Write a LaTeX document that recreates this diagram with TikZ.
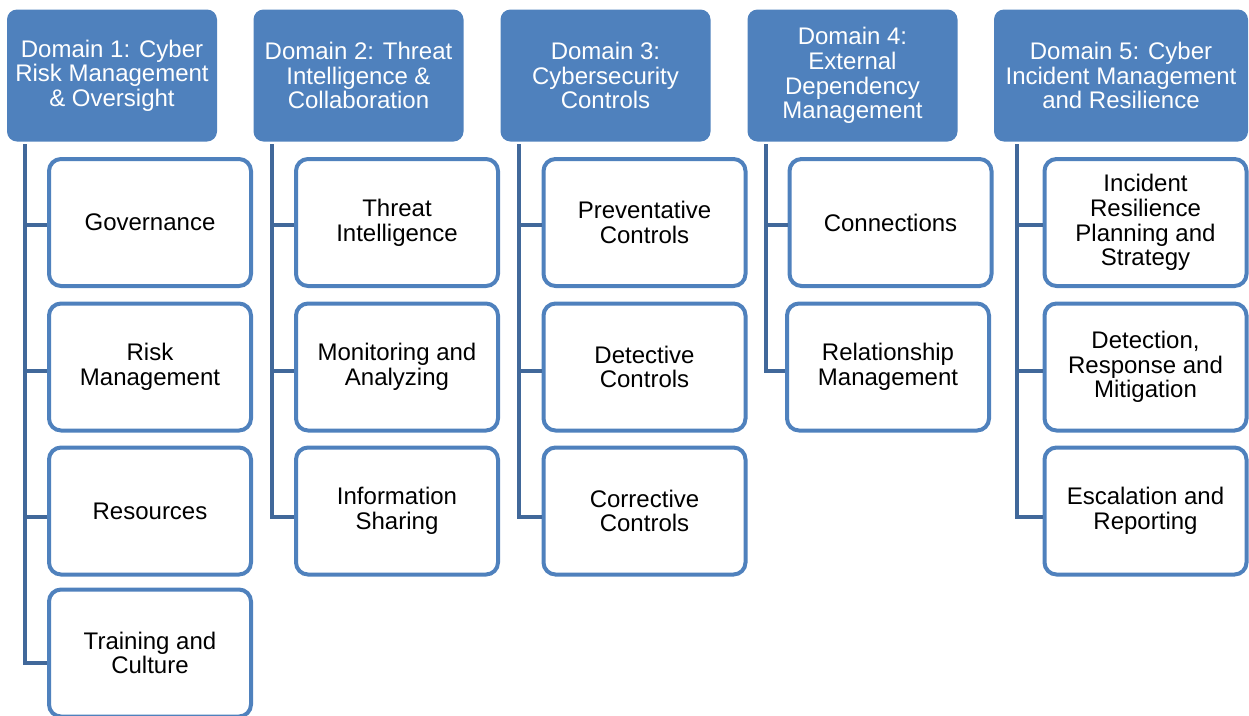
\documentclass[tikz,border=0pt]{standalone}
\usepackage{fontspec}
\setmainfont{Liberation Sans}
\definecolor{hdrblue}{HTML}{4F81BD}
\definecolor{trunkblue}{HTML}{41689A}
\tikzset{
  domainbox/.style={fill=hdrblue, text=white, rounded corners=7.5pt, align=center,
    inner sep=0pt, minimum width=157.5pt, minimum height=99pt,
    font=\fontsize{18}{18.5}\selectfont},
  areabox/.style={draw=hdrblue, fill=white, line width=3pt, rounded corners=9pt,
    align=center, inner sep=0pt, minimum width=151.5pt, minimum height=95.25pt,
    font=\fontsize{18}{18.5}\selectfont},
  trunk/.style={draw=trunkblue, line width=3pt}
}
\begin{document}
\begin{tikzpicture}[x=0.75pt,y=-0.75pt]
    \useasboundingbox (0,0) rectangle (1249,715);
    \clip (0,0) rectangle (1249,715);
      % domains
      \node [domainbox] (d1) at (112,75.5) {Domain 1: Cyber\\Risk Management\\\& Oversight};
      \node [domainbox] (d2) at (358.5,75.5) {Domain 2: Threat\\Intelligence \&\\Collaboration};
      \node [domainbox] (d3) at (605.5,75.5) {Domain 3:\\Cybersecurity\\Controls};
      \node [domainbox] (d4) at (852.5,75.5) {Domain 4:\\External\\Dependency\\Management};
      \node [domainbox, minimum width=190.5pt] (d5) at (1121,75.5) {Domain 5: Cyber\\Incident Management\\and Resilience};
      \coordinate (t1) at (25,144);
      \coordinate (t2) at (272,144);
      \coordinate (t3) at (519,144);
      \coordinate (t4) at (766,144);
      \coordinate (t5) at (1017,144);
      % areas
      \node [areabox] (g1) at (150,222.5) {Governance};
      \node [areabox] (g2) at (150,367) {Risk\\Management};
      \node [areabox] (g3) at (150,511) {Resources};
      \node [areabox] (g4) at (150,653) {Training and\\Culture};
      \node [areabox] (i1) at (397,222.5) {Threat\\Intelligence};
      \node [areabox] (i2) at (397,367) {Monitoring and\\Analyzing};
      \node [areabox] (i3) at (397,511) {Information\\Sharing};
      \node [areabox] (c1) at (644.5,222.5) {Preventative\\Controls};
      \node [areabox] (c2) at (644.5,367) {Detective\\Controls};
      \node [areabox] (c3) at (644.5,511) {Corrective\\Controls};
      \node [areabox] (e1) at (890.5,222.5) {Connections};
      \node [areabox] (e2) at (888,367) {Relationship\\Management};
      \node [areabox] (r1) at (1145.5,222.5) {Incident\\Resilience\\Planning and\\Strategy};
      \node [areabox] (r2) at (1145.5,367) {Detection,\\Response and\\Mitigation};
      \node [areabox] (r3) at (1145.5,511) {Escalation and\\Reporting};
      % connectors
      \foreach \t/\a/\s in {t1/g1/2,t1/g2/3,t1/g3/4.5,t1/g4/7.5,t2/i1/2,t2/i2/3,t2/i3/4.5,
                            t3/c1/2,t3/c2/3,t3/c3/4.5,t4/e1/2,t4/e2/3,t5/r1/2,t5/r2/3,t5/r3/4.5}
        \draw [trunk] (\t) |- ([yshift=-\s pt]\a.west);
    \end{tikzpicture}
\end{document}
